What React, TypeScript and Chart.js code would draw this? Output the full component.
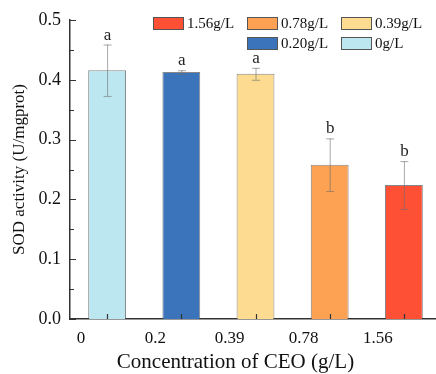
import React, { useEffect, useRef } from "react";
import { Chart, registerables } from "chart.js";

Chart.register(...registerables);

const categories = ["0", "0.2", "0.39", "0.78", "1.56"];
const legendLabels = ["0g/L", "0.20g/L", "0.39g/L", "0.78g/L", "1.56g/L"];
const means = [0.416, 0.413, 0.41, 0.258, 0.224];
const sds = [0.043, 0.003, 0.01, 0.044, 0.04];
const letters = ["a", "a", "a", "b", "b"];
const colors = ["#BCE7F0", "#3B74BA", "#FDDB91", "#FCA252", "#FD5034"];
const yTitle = "SOD activity (U/mgprot)";
const xTitle = "Concentration of CEO (g/L)";

const FONT = "'Liberation Serif', 'Times New Roman', serif";

const customPlugin = {
  id: "custom",
  afterDatasetsDraw(chart: any) {
    const ctx = chart.ctx;
    const xs = chart.scales.x;
    const ys = chart.scales.y;
    ctx.save();
    means.forEach((m, i) => {
      const cx = xs.getPixelForValue(i);
      const yt = ys.getPixelForValue(m + sds[i]);
      const yb = ys.getPixelForValue(m - sds[i]);
      ctx.strokeStyle = "rgba(110,110,110,0.6)";
      ctx.lineWidth = 1;
      ctx.beginPath();
      ctx.moveTo(cx + 0.5, yt);
      ctx.lineTo(cx + 0.5, yb);
      ctx.moveTo(cx - 3.5, yt + 0.5);
      ctx.lineTo(cx + 4.5, yt + 0.5);
      ctx.moveTo(cx - 3.5, yb + 0.5);
      ctx.lineTo(cx + 4.5, yb + 0.5);
      ctx.stroke();
      ctx.fillStyle = "#222";
      ctx.font = `17px ${FONT}`;
      ctx.textAlign = "center";
      ctx.textBaseline = "alphabetic";
      ctx.fillText(letters[i], cx + 0.5, yt - 5);
    });
    ctx.restore();
  },
  afterDraw(chart: any) {
    const ctx = chart.ctx;
    const xs = chart.scales.x;
    const ys = chart.scales.y;
    const area = chart.chartArea;
    ctx.save();
    ctx.strokeStyle = "#333";
    ctx.lineWidth = 1.2;
    ctx.beginPath();
    for (let v = 0; v <= 0.5001; v += 0.05) {
      const py = Math.round(ys.getPixelForValue(v)) + 0.5;
      const major = Math.abs(Math.round(v * 10) - v * 10) < 1e-6;
      const len = major ? 6 : 4;
      ctx.moveTo(area.left, py);
      ctx.lineTo(area.left + len, py);
    }
    categories.forEach((_, i) => {
      const px = Math.round(xs.getPixelForValue(i)) + 0.5;
      ctx.moveTo(px, area.bottom);
      ctx.lineTo(px, area.bottom - 5);
    });
    ctx.stroke();

    ctx.fillStyle = "#111";
    ctx.font = `17px ${FONT}`;
    ctx.textAlign = "center";
    ctx.textBaseline = "middle";
    ctx.save();
    ctx.translate(20, (area.top + area.bottom) / 2);
    ctx.rotate(-Math.PI / 2);
    ctx.fillText(yTitle, 0, 0);
    ctx.restore();
    ctx.font = `21px ${FONT}`;
    ctx.fillText(xTitle, (area.left + area.right) / 2 - 20, 362);

    const colX = [153, 247, 341];
    const rowY = [17, 37];
    const order = [4, 3, 2, 1, 0];
    order.forEach((idx, k) => {
      const slot = k < 3 ? k : k - 2;
      const row = k < 3 ? 0 : 1;
      const bx = colX[slot];
      const by = rowY[row];
      ctx.fillStyle = colors[idx];
      ctx.fillRect(bx, by, 31, 13);
      ctx.strokeStyle = "#555";
      ctx.lineWidth = 1;
      ctx.strokeRect(bx + 0.5, by + 0.5, 30, 12);
      ctx.fillStyle = "#111";
      ctx.font = `15px ${FONT}`;
      ctx.textAlign = "left";
      ctx.textBaseline = "middle";
      ctx.fillText(legendLabels[idx], bx + 34, by + 7);
    });
    ctx.restore();
  },
};

export default function App() {
  const ref = useRef<HTMLCanvasElement | null>(null);
  useEffect(() => {
    if (!ref.current) return;
    const chart = new Chart(ref.current, {
      type: "bar",
      data: {
        labels: categories,
        datasets: [
          {
            data: means,
            backgroundColor: colors,
            borderColor: "rgba(70,70,70,0.65)",
            borderWidth: 1,
            categoryPercentage: 1,
            barPercentage: 0.51,
          },
        ],
      },
      options: {
        responsive: false,
        animation: false,
        layout: { padding: { top: 20, right: 0, left: 0, bottom: 0 } },
        plugins: {
          legend: { display: false },
          tooltip: { enabled: false },
          title: { display: false },
        },
        scales: {
          x: {
            grid: { display: false, drawTicks: false },
            border: { display: true, color: "#333", width: 1.5 },
            ticks: {
              color: "#111",
              font: { family: FONT, size: 17 },
              padding: 9,
              labelOffset: -26,
              maxRotation: 0,
            },
            afterFit: (s: any) => {
              s.height = 55;
            },
          },
          y: {
            min: 0,
            max: 0.5,
            grid: { display: false, drawTicks: false },
            border: { display: true, color: "#333", width: 1.5 },
            ticks: {
              stepSize: 0.1,
              color: "#111",
              font: { family: FONT, size: 18 },
              padding: 9,
              callback: (v: any) => Number(v).toFixed(1),
            },
            afterFit: (s: any) => {
              s.width = 70;
            },
          },
        },
      },
      plugins: [customPlugin],
    });
    return () => chart.destroy();
  }, []);
  return (
    <div
      style={{
        position: "absolute",
        left: 0,
        top: 0,
        width: 436,
        height: 374,
        overflow: "hidden",
        background: "#fff",
      }}
    >
      <canvas ref={ref} width={441} height={374} style={{ display: "block" }} />
    </div>
  );
}
